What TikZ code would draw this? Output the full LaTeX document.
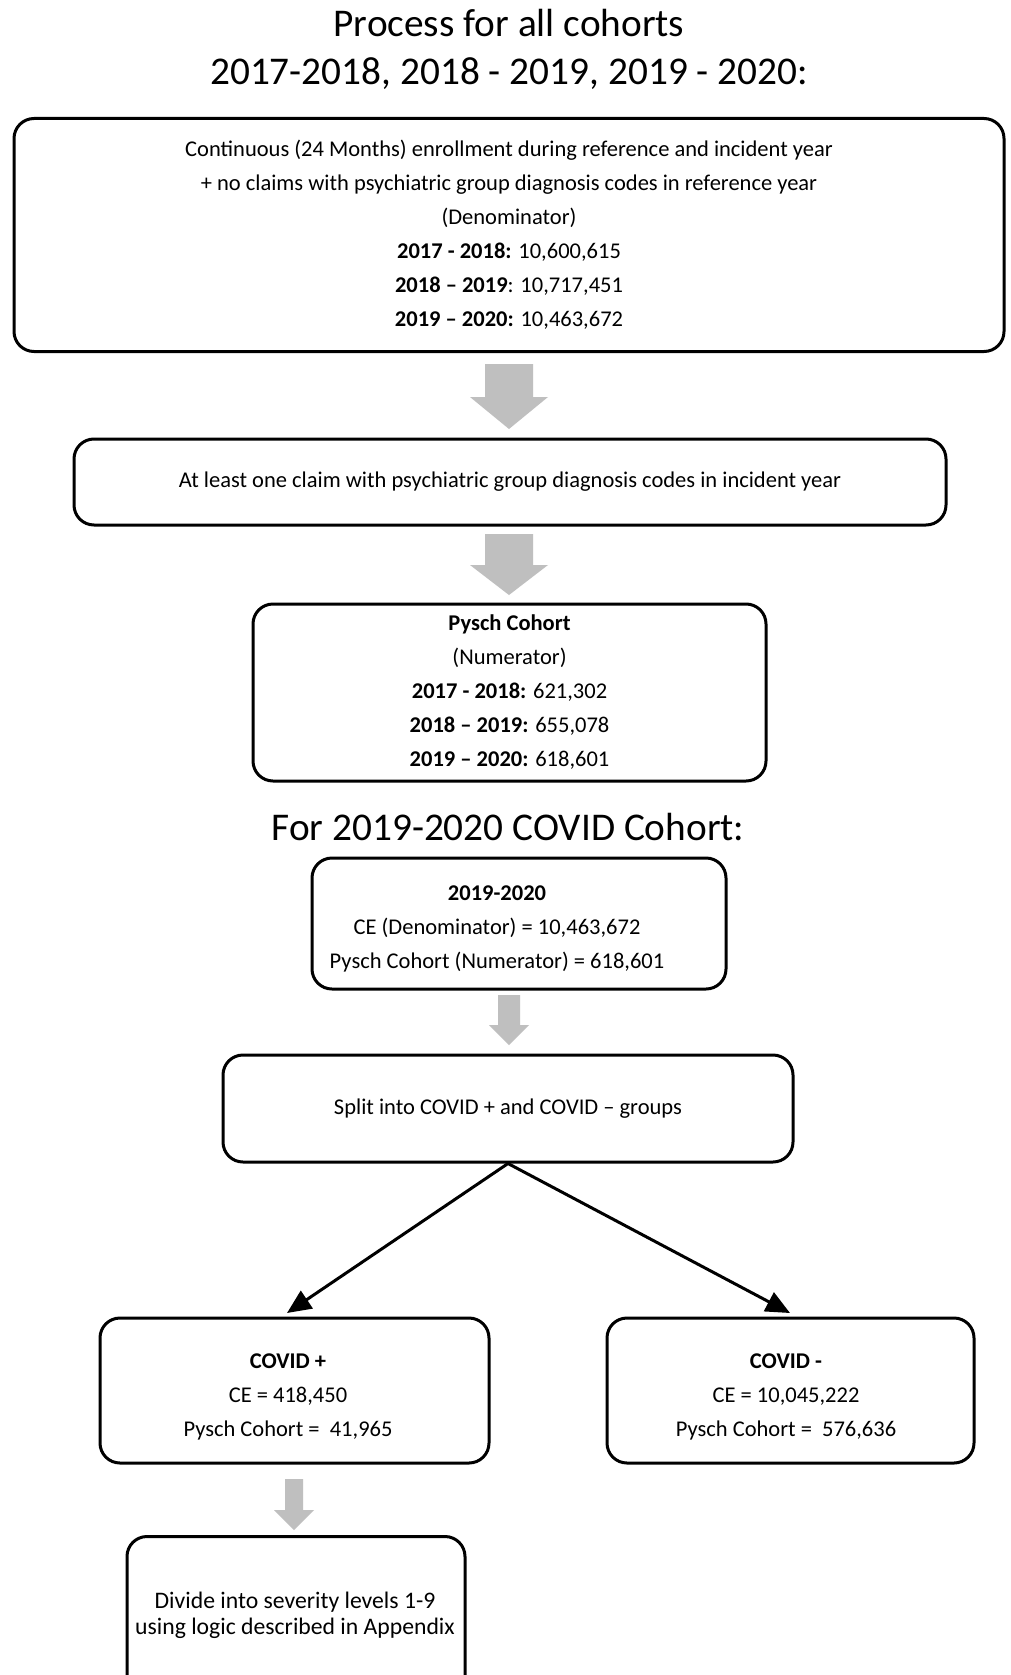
\documentclass[tikz,border=0pt]{standalone}
\usepackage{fontspec}
\setmainfont{Carlito}
\usetikzlibrary{arrows.meta}
\definecolor{arrowgray}{HTML}{BFBFBF}
\newcommand{\grayarrow}[6]{%
  \fill[arrowgray] (#1-#5,#2) -- (#1+#5,#2) -- (#1+#5,#3) -- (#1+#6,#3) -- (#1,#4) -- (#1-#6,#3) -- (#1-#5,#3) -- cycle;}
\tikzset{
  box/.style={draw=black, line width=3pt, rounded corners=20pt, inner sep=0pt, align=center,
    font=\fontsize{22.5}{34}\selectfont},
  txt/.style={inner sep=0pt, align=center, font=\fontsize{22.5}{34}\selectfont},
  heading/.style={inner sep=0pt, anchor=base, font=\fontsize{39.3}{47}\selectfont},
  splitarrow/.style={line width=3pt, -{Triangle[length=24pt 0 0, width=21pt 0 0]}}
}
\begin{document}
\begin{tikzpicture}[x=1pt, y=-1pt]
\useasboundingbox (0,0) rectangle (1011,1675);
\clip (0,0) rectangle (1011,1675);
\fill[white] (0,0) rectangle (1011,1675);

% headings
\node[heading] (h1) at (509,36.5) {Process for all cohorts};
\node[heading] (h2) at (509,84.5) {2017-2018, 2018 - 2019, 2019 - 2020:};
\node[heading] (h3) at (508,840) {For 2019-2020 COVID Cohort:};

% box 1
\node[box, minimum width=990pt, minimum height=233pt] (b1) at (509,235) {%
Continuous (24 Months) enrollment during reference and incident year\\
+ no claims with psychiatric group diagnosis codes in reference year\\
(Denominator)\\
\textbf{2017 - 2018:} 10,600,615\\
\textbf{2018 – 2019}: 10,717,451\\
\textbf{2019 – 2020:} 10,463,672};

\grayarrow{509}{364}{397}{429}{24}{39}

% box 2
\node[box, minimum width=872pt, minimum height=86pt] (b2) at (510,482) {%
At least one claim with psychiatric group diagnosis codes in incident year};

\grayarrow{509}{534}{565}{595}{24}{39}

% box 3
\node[box, minimum width=513pt, minimum height=177pt] (b3) at (509.5,692.5) {%
\textbf{Pysch Cohort}\\
(Numerator)\\
\textbf{2017 - 2018:} 621,302\\
\textbf{2018 – 2019:} 655,078\\
\textbf{2019 – 2020:} 618,601};

% box 4
\node[box, minimum width=414pt, minimum height=131pt] (b4) at (519,923.5) {};
\node[txt] (b4t) at (497,928.5) {%
\textbf{2019-2020}\\
CE (Denominator) = 10,463,672\\
Pysch Cohort (Numerator) = 618,601};

\grayarrow{509}{995}{1025}{1045}{11}{20}

% box 5
\node[box, minimum width=570pt, minimum height=107pt] (b5) at (508,1108.5) {%
Split into COVID + and COVID – groups};

% box 6, 7
\node[box, minimum width=389pt, minimum height=145pt] (b6) at (294.5,1390.5) {};
\node[txt] (b6t) at (288,1397) {%
\textbf{COVID +}\\
CE = 418,450\\
Pysch Cohort =~~41,965};
\node[box, minimum width=367pt, minimum height=145pt] (b7) at (790.5,1390.5) {};
\node[txt] (b7t) at (786,1397) {%
\textbf{COVID -}\\
CE = 10,045,222\\
Pysch Cohort =~~576,636};

\coordinate (tipL) at (287,1313);
\coordinate (tipR) at (790,1313);
\draw[splitarrow] (b5.south) -- (tipL);
\draw[splitarrow] (b5.south) -- (tipR);

\grayarrow{294}{1479}{1510}{1530}{9}{20}

% box 8 (cut by page edge)
\node[box, minimum width=338pt, minimum height=200pt, anchor=north] (b8) at (296,1535) {};
\node[txt, font=\fontsize{23.7}{25.5}\selectfont] (b8t) at (295,1615.5) {%
Divide into severity levels 1-9\\
using logic described in Appendix};
\end{tikzpicture}
\end{document}
